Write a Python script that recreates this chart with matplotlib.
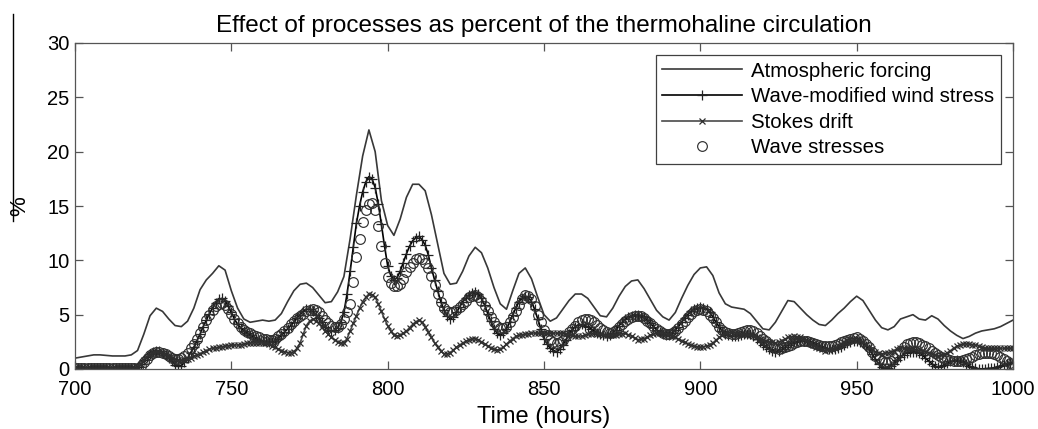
import numpy as np
import matplotlib
matplotlib.use("Agg")
import matplotlib.pyplot as plt
from matplotlib.lines import Line2D

plt.rcParams["font.family"] = ["Liberation Sans", "DejaVu Sans"]

# Atmospheric forcing, sampled every 2 hours from 700 to 1000
hours_forcing = np.arange(700, 1001, 2)
atmospheric_forcing = [
    1.0, 1.1, 1.2, 1.3, 1.3, 1.25, 1.2, 1.2, 1.2, 1.3,
    1.7, 3.2, 4.9, 5.6, 5.3, 4.6, 4.0, 3.9, 4.4, 5.6,
    7.3, 8.2, 8.8, 9.5, 9.1, 7.2, 5.6, 4.6, 4.3, 4.4,
    4.5, 4.4, 4.5, 5.1, 6.2, 7.2, 7.8, 7.9, 7.5, 6.8,
    6.1, 6.2, 7.1, 8.5, 12.0, 16.0, 19.6, 22.0, 20.0, 15.5,
    13.2, 12.3, 13.8, 15.8, 17.0, 17.0, 16.4, 14.2, 11.5, 8.8,
    7.8, 7.9, 9.0, 10.4, 11.2, 10.7, 9.3, 7.5, 6.0, 5.5,
    7.2, 8.8, 9.3, 8.3, 6.6, 5.0, 4.4, 4.7, 5.5, 6.3,
    6.9, 6.9, 6.5, 5.7, 4.9, 4.8, 5.6, 6.7, 7.6, 8.1,
    8.2, 7.4, 6.4, 5.4, 4.8, 4.5, 5.2, 6.5, 7.7, 8.7,
    9.3, 9.4, 8.6, 7.0, 6.0, 5.7, 5.6, 5.5, 5.1, 4.4,
    3.7, 3.6, 4.3, 5.3, 6.3, 6.2, 5.6, 5.0, 4.5, 4.1,
    4.0, 4.5, 5.1, 5.6, 6.2, 6.7, 6.3, 5.4, 4.5, 3.8,
    3.6, 3.9, 4.6, 4.8, 5.0, 4.6, 4.5, 4.9, 4.6, 4.0,
    3.5, 3.1, 2.8, 3.0, 3.3, 3.5, 3.6, 3.7, 3.9, 4.2,
    4.5,
]

# Hourly series, 700 to 1000 (one row of ten per decade)
hours = np.arange(700, 1001)

wave_modified_wind_stress = [
    0.05, 0.05, 0.05, 0.05, 0.05, 0.05, 0.05, 0.05, 0.05, 0.05,
    0.05, 0.05, 0.05, 0.05, 0.05, 0.05, 0.05, 0.05, 0.05, 0.1,
    0.2, 0.45, 0.8, 1.1, 1.4, 1.6, 1.7, 1.65, 1.5, 1.25,
    1.0, 0.7, 0.4, 0.3, 0.3, 0.6, 1.0, 1.5, 2.0, 2.6,
    3.2, 3.9, 4.5, 5.1, 5.6, 6.1, 6.4, 6.5, 6.3, 5.8,
    5.2, 4.6, 4.1, 3.8, 3.5, 3.3, 3.1, 2.95, 2.8, 2.7,
    2.6, 2.55, 2.5, 2.5, 2.6, 2.8, 3.1, 3.4, 3.7, 4.0,
    4.3, 4.7, 5.0, 5.3, 5.5, 5.5, 5.3, 5.0, 4.7, 4.3,
    3.9, 3.6, 3.5, 3.55, 3.8, 4.3, 5.2, 6.9, 9.0, 11.2,
    13.4, 15.0, 16.3, 17.2, 17.7, 17.5, 16.7, 15.2, 13.3, 11.3,
    9.5, 8.6, 8.2, 8.4, 9.0, 9.8, 10.6, 11.3, 11.8, 12.1,
    12.2, 11.9, 11.4, 10.5, 9.3, 8.2, 7.2, 6.2, 5.4, 4.9,
    4.6, 4.8, 5.2, 5.7, 6.2, 6.5, 6.8, 7.0, 7.1, 6.9,
    6.5, 5.9, 5.1, 4.4, 3.7, 3.3, 3.1, 3.3, 3.7, 4.3,
    5.0, 5.6, 6.2, 6.5, 6.7, 6.6, 6.2, 5.5, 4.6, 3.7,
    2.8, 2.3, 1.9, 1.7, 1.6, 1.8, 2.2, 2.7, 3.2, 3.6,
    3.9, 4.05, 4.1, 4.0, 3.9, 3.7, 3.5, 3.35, 3.2, 3.1,
    3.0, 3.1, 3.3, 3.6, 4.0, 4.3, 4.6, 4.8, 4.9, 5.0,
    5.0, 4.9, 4.8, 4.5, 4.2, 3.9, 3.6, 3.4, 3.2, 3.1,
    3.1, 3.3, 3.6, 3.9, 4.3, 4.7, 5.0, 5.3, 5.5, 5.6,
    5.7, 5.65, 5.5, 5.2, 4.8, 4.3, 3.9, 3.5, 3.2, 3.1,
    3.0, 3.0, 3.0, 3.1, 3.2, 3.25, 3.2, 3.0, 2.8, 2.5,
    2.2, 2.0, 1.8, 1.7, 1.6, 1.7, 1.8, 2.0, 2.2, 2.35,
    2.5, 2.55, 2.6, 2.6, 2.6, 2.5, 2.4, 2.25, 2.1, 2.0,
    1.9, 1.85, 1.8, 1.85, 1.9, 2.05, 2.2, 2.35, 2.5, 2.55,
    2.6, 2.5, 2.4, 2.1, 1.8, 1.4, 0.9, 0.5, 0.2, 0.1,
    0.1, 0.3, 0.5, 0.8, 1.1, 1.3, 1.5, 1.55, 1.6, 1.55,
    1.5, 1.3, 1.0, 0.75, 0.5, 0.3, 0.15, 0.25, 0.4, 0.55,
    0.7, 0.75, 0.8, 0.7, 0.6, 0.45, 0.3, 0.15, 0.05, 0.02,
    0.0, 0.02, 0.05, 0.07, 0.1, 0.2, 0.3, 0.4, 0.5, 0.55,
    0.6,
]

stokes_drift = [
    0.05, 0.05, 0.05, 0.05, 0.05, 0.05, 0.05, 0.05, 0.05, 0.05,
    0.05, 0.05, 0.05, 0.05, 0.05, 0.05, 0.05, 0.05, 0.05, 0.1,
    0.2, 0.5, 0.8, 1.1, 1.4, 1.5, 1.6, 1.55, 1.5, 1.35,
    1.2, 1.05, 0.9, 0.85, 0.8, 0.85, 0.9, 1.05, 1.2, 1.3,
    1.4, 1.55, 1.7, 1.8, 1.9, 1.95, 2.0, 2.05, 2.1, 2.15,
    2.2, 2.2, 2.2, 2.25, 2.3, 2.35, 2.4, 2.4, 2.4, 2.4,
    2.4, 2.35, 2.3, 2.15, 2.0, 1.85, 1.7, 1.6, 1.5, 1.5,
    1.6, 1.9, 2.4, 3.2, 4.0, 4.4, 4.6, 4.45, 4.2, 3.85,
    3.5, 3.2, 2.9, 2.7, 2.5, 2.4, 2.4, 2.8, 3.5, 4.2,
    4.9, 5.6, 6.2, 6.6, 6.9, 6.85, 6.6, 6.0, 5.3, 4.6,
    4.0, 3.5, 3.1, 3.05, 3.1, 3.3, 3.5, 3.8, 4.1, 4.35,
    4.5, 4.3, 3.9, 3.4, 2.9, 2.4, 2.0, 1.65, 1.4, 1.4,
    1.5, 1.75, 2.0, 2.2, 2.4, 2.55, 2.7, 2.75, 2.8, 2.7,
    2.5, 2.3, 2.1, 1.95, 1.8, 1.75, 1.8, 2.0, 2.3, 2.55,
    2.8, 3.0, 3.1, 3.15, 3.2, 3.25, 3.3, 3.3, 3.3, 3.3,
    3.3, 3.3, 3.3, 3.3, 3.3, 3.3, 3.3, 3.25, 3.2, 3.1,
    3.0, 3.0, 3.0, 3.1, 3.2, 3.25, 3.3, 3.25, 3.2, 3.15,
    3.1, 3.1, 3.1, 3.15, 3.2, 3.25, 3.3, 3.15, 3.0, 2.85,
    2.7, 2.75, 2.8, 2.95, 3.1, 3.2, 3.3, 3.3, 3.3, 3.25,
    3.2, 3.05, 2.9, 2.75, 2.6, 2.45, 2.3, 2.2, 2.1, 2.05,
    2.0, 2.05, 2.1, 2.25, 2.4, 2.65, 2.9, 3.1, 3.3, 3.35,
    3.4, 3.35, 3.3, 3.25, 3.2, 3.15, 3.1, 3.0, 2.9, 2.8,
    2.7, 2.6, 2.5, 2.45, 2.4, 2.5, 2.6, 2.75, 2.9, 2.95,
    3.0, 2.95, 2.9, 2.75, 2.6, 2.4, 2.2, 2.05, 1.9, 1.8,
    1.7, 1.75, 1.8, 1.95, 2.1, 2.3, 2.5, 2.65, 2.8, 2.8,
    2.8, 2.65, 2.5, 2.25, 2.0, 1.8, 1.6, 1.5, 1.4, 1.45,
    1.5, 1.6, 1.7, 1.8, 1.9, 1.9, 1.9, 1.85, 1.8, 1.75,
    1.7, 1.65, 1.6, 1.5, 1.4, 1.3, 1.2, 1.25, 1.3, 1.5,
    1.7, 1.9, 2.1, 2.2, 2.3, 2.3, 2.3, 2.25, 2.2, 2.1,
    2.0, 1.95, 1.9, 1.9, 1.9, 1.9, 1.9, 1.9, 1.9, 1.9,
    1.9,
]

wave_stresses = [
    0.05, 0.05, 0.05, 0.05, 0.05, 0.05, 0.05, 0.05, 0.05, 0.05,
    0.05, 0.05, 0.05, 0.05, 0.05, 0.05, 0.05, 0.05, 0.05, 0.07,
    0.1, 0.3, 0.6, 0.95, 1.3, 1.5, 1.6, 1.55, 1.5, 1.35,
    1.2, 1.05, 0.9, 0.9, 1.0, 1.2, 1.5, 1.9, 2.3, 2.8,
    3.3, 3.9, 4.5, 5.0, 5.4, 5.8, 6.0, 6.05, 5.9, 5.5,
    5.1, 4.6, 4.2, 3.9, 3.6, 3.45, 3.3, 3.15, 3.0, 2.9,
    2.8, 2.75, 2.7, 2.7, 2.8, 3.0, 3.2, 3.5, 3.8, 4.1,
    4.4, 4.65, 4.9, 5.1, 5.3, 5.45, 5.5, 5.4, 5.2, 4.9,
    4.5, 4.2, 4.0, 3.9, 3.9, 4.1, 4.6, 5.2, 6.0, 8.0,
    10.3, 12.0, 13.5, 14.6, 15.2, 15.3, 14.6, 13.2, 11.3, 9.8,
    8.5, 7.9, 7.6, 7.6, 7.8, 8.3, 8.9, 9.4, 9.8, 10.1,
    10.2, 10.1, 9.8, 9.3, 8.6, 7.7, 6.9, 6.2, 5.6, 5.35,
    5.2, 5.25, 5.4, 5.7, 6.0, 6.3, 6.6, 6.75, 6.8, 6.6,
    6.3, 5.8, 5.3, 4.8, 4.3, 4.0, 3.8, 3.8, 3.9, 4.3,
    4.8, 5.3, 5.9, 6.4, 6.8, 6.7, 6.4, 5.8, 5.0, 4.3,
    3.6, 3.1, 2.7, 2.5, 2.4, 2.5, 2.7, 3.0, 3.4, 3.7,
    4.0, 4.3, 4.5, 4.6, 4.6, 4.5, 4.3, 4.05, 3.8, 3.6,
    3.4, 3.35, 3.4, 3.6, 3.9, 4.15, 4.4, 4.6, 4.8, 4.85,
    4.9, 4.85, 4.7, 4.45, 4.2, 3.95, 3.7, 3.5, 3.3, 3.25,
    3.2, 3.3, 3.5, 3.8, 4.1, 4.45, 4.8, 5.1, 5.3, 5.4,
    5.5, 5.45, 5.3, 5.0, 4.7, 4.3, 3.9, 3.6, 3.4, 3.3,
    3.2, 3.25, 3.3, 3.4, 3.5, 3.55, 3.6, 3.5, 3.3, 3.05,
    2.8, 2.55, 2.3, 2.1, 1.9, 1.85, 1.9, 2.0, 2.1, 2.25,
    2.4, 2.5, 2.6, 2.6, 2.6, 2.5, 2.4, 2.3, 2.2, 2.15,
    2.1, 2.1, 2.1, 2.2, 2.3, 2.45, 2.6, 2.7, 2.8, 2.85,
    2.9, 2.8, 2.6, 2.3, 2.0, 1.6, 1.2, 0.9, 0.7, 0.6,
    0.6, 0.75, 1.0, 1.35, 1.7, 2.0, 2.3, 2.4, 2.5, 2.45,
    2.4, 2.25, 2.1, 1.9, 1.7, 1.5, 1.3, 1.15, 1.0, 0.9,
    0.8, 0.75, 0.7, 0.75, 0.8, 0.9, 1.0, 1.15, 1.3, 1.4,
    1.5, 1.5, 1.5, 1.45, 1.4, 1.25, 1.1, 0.9, 0.7, 0.55,
    0.4,
]

x_ticks = [700, 750, 800, 850, 900, 950, 1000]
y_ticks = [0, 5, 10, 15, 20, 25, 30]

fig = plt.figure(figsize=(10.38, 4.29), dpi=100)
ax = fig.add_axes([75 / 1038, 1 - 369 / 429, 938 / 1038, 326 / 429])

ax.plot(hours_forcing, atmospheric_forcing, color="#383838", lw=1.2,
        label="Atmospheric forcing")
ax.plot(hours, wave_modified_wind_stress, color="black", lw=1.2,
        marker="+", ms=7.5, mew=0.9, mec="#222222",
        label="Wave-modified wind stress")
ax.plot(hours, stokes_drift, color="#4a4a4a", lw=1.2,
        marker="x", ms=4.8, mew=0.9, mec="#2e2e2e",
        label="Stokes drift")
ax.plot(hours, wave_stresses, linestyle="none",
        marker="o", ms=7, mfc="none", mew=0.85, mec="#303030",
        label="Wave stresses")

ax.set_xlim(700, 1000)
ax.set_ylim(0, 30)
ax.set_xticks(x_ticks)
ax.set_yticks(y_ticks)
ax.tick_params(direction="in", length=6, width=0.9, color="#555555",
               top=True, right=True, labelsize=14.5)
ax.tick_params(axis="x", pad=8)
ax.tick_params(axis="y", pad=4)
for s in ax.spines.values():
    s.set_color("#555555")
    s.set_linewidth(0.9)

ax.set_title("Effect of processes as percent of the thermohaline circulation",
             fontsize=17.5, pad=8)
ax.set_xlabel("Time (hours)", fontsize=17, labelpad=5)
ax.set_ylabel("%", fontsize=16, labelpad=12)

leg = ax.legend(loc="upper right", fontsize=14.7, numpoints=1,
                handlelength=3.9, handletextpad=0.45, labelspacing=0.32,
                borderpad=0.32, borderaxespad=0.0, fancybox=False,
                framealpha=1, bbox_to_anchor=(0.987, 0.963))
leg.get_frame().set_edgecolor("#404040")
leg.get_frame().set_linewidth(0.9)

# thin rule running down the left margin
fig.add_artist(Line2D([13 / 1038, 13 / 1038], [1 - 14 / 429, 1 - 221 / 429],
                      color="black", lw=1.0))

fig.savefig("out.png", dpi=100)
